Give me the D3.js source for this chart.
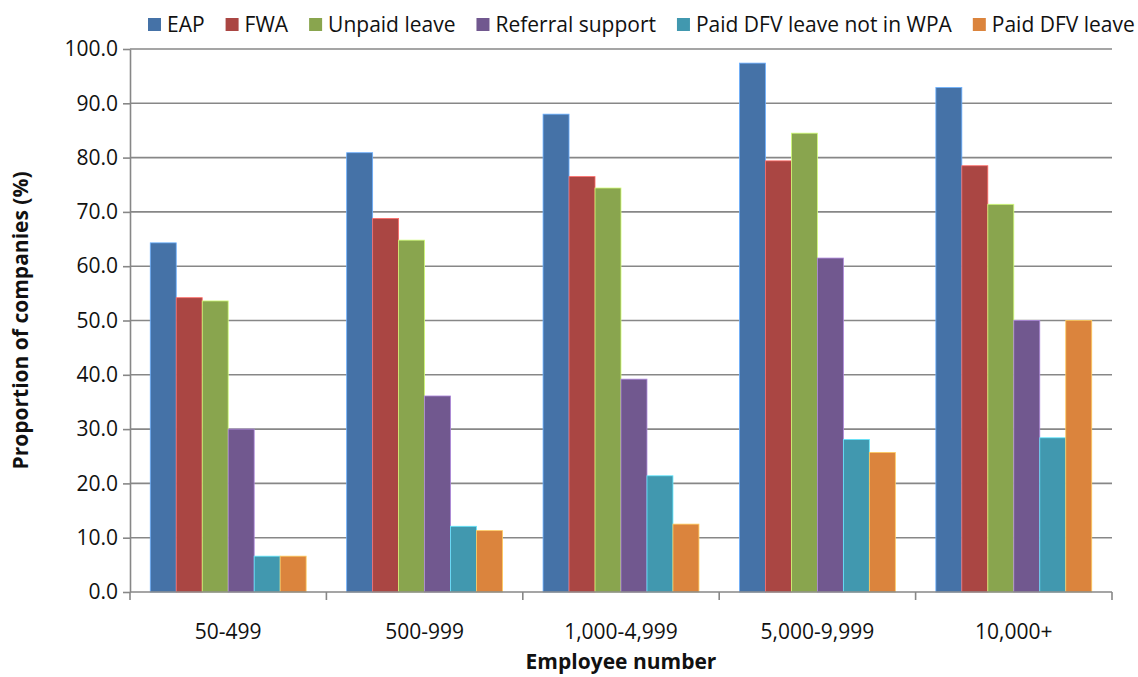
<!DOCTYPE html>
<html>
<head>
<meta charset="utf-8">
<script src="https://cdn.jsdelivr.net/npm/d3@7"></script>
<style>
  html, body { margin: 0; padding: 0; background: #fff; }
  svg text { font-family: "Open Sans", Lato, sans-serif; fill: #111; }
</style>
</head>
<body>
<svg id="chart" width="1138" height="677"></svg>
<script>
// Employee-size bands on the x axis
const categories = ["50-499", "500-999", "1,000-4,999", "5,000-9,999", "10,000+"];

// Support types, in legend / bar order
const seriesNames = ["EAP", "FWA", "Unpaid leave", "Referral support", "Paid DFV leave not in WPA", "Paid DFV leave"];
const seriesColors = ["#4572A7", "#AA4643", "#89A54E", "#71588F", "#4198AF", "#DB843D"];

// Proportion of companies (%) per band, one array per support type
const eap        = [64.3, 80.9, 88.0, 97.4, 92.9];
const fwa        = [54.2, 68.8, 76.5, 79.4, 78.5];
const unpaid     = [53.6, 64.8, 74.4, 84.5, 71.4];
const referral   = [30.0, 36.1, 39.2, 61.5, 50.0];
const paidNotWpa = [6.6, 12.1, 21.4, 28.1, 28.4];
const paidDfv    = [6.6, 11.3, 12.5, 25.7, 50.0];

const yTicks = [0, 10, 20, 30, 40, 50, 60, 70, 80, 90, 100];

const seriesValues = [eap, fwa, unpaid, referral, paidNotWpa, paidDfv];

const svg = d3.select("#chart");
const plotLeft = 130, plotRight = 1112, plotTop = 49, plotBottom = 592;
const axisColor = "#878787";

const x0 = d3.scaleBand().domain(categories).range([plotLeft, plotRight]).paddingInner(0).paddingOuter(0);
const x1 = d3.scaleBand().domain(seriesNames).range([0, x0.bandwidth()]).paddingInner(0).paddingOuter(0.78);
const y = d3.scaleLinear().domain([0, 100]).range([plotBottom, plotTop]);

// horizontal gridlines
svg.append("g")
  .selectAll("line")
  .data(yTicks.filter(d => d > 0))
  .join("line")
  .attr("x1", plotLeft).attr("x2", plotRight)
  .attr("y1", d => y(d)).attr("y2", d => y(d))
  .attr("stroke", axisColor).attr("stroke-width", 1.6);

// bars
const rows = categories.map((c, i) => ({
  cat: c,
  vals: seriesNames.map((s, j) => ({ s, j, v: seriesValues[j][i] }))
}));

svg.append("g")
  .selectAll("g")
  .data(rows)
  .join("g")
  .attr("transform", d => `translate(${x0(d.cat)},0)`)
  .selectAll("rect")
  .data(d => d.vals)
  .join("rect")
  .attr("x", d => x1(d.s))
  .attr("width", x1.bandwidth())
  .attr("y", d => y(d.v))
  .attr("height", d => y(0) - y(d.v))
  .attr("fill", d => seriesColors[d.j])
  .attr("stroke", d => d3.color(seriesColors[d.j]).brighter(1.2))
  .attr("stroke-width", 0.8);

// y axis
const yAxis = d3.axisLeft(y).tickValues(yTicks).tickFormat(d3.format(".1f"))
  .tickSizeInner(7).tickSizeOuter(0).tickPadding(5);
const gy = svg.append("g").attr("transform", `translate(${plotLeft},0)`).call(yAxis);
gy.select(".domain").attr("stroke", axisColor).attr("stroke-width", 1.6);
gy.selectAll(".tick line").attr("stroke", axisColor).attr("stroke-width", 1.6);
gy.selectAll(".tick text").style("font-size", "21px").attr("fill", "#111");

// x axis: baseline plus boundary ticks between bands
const gx = svg.append("g");
gx.append("line")
  .attr("x1", plotLeft).attr("x2", plotRight)
  .attr("y1", y(0)).attr("y2", y(0))
  .attr("stroke", axisColor).attr("stroke-width", 1.6);
const bounds = categories.map(c => x0(c)).concat([x0(categories[categories.length - 1]) + x0.step()]);
gx.selectAll("line.tk")
  .data(bounds)
  .join("line")
  .attr("class", "tk")
  .attr("x1", d => d).attr("x2", d => d)
  .attr("y1", y(0)).attr("y2", y(0) + 8)
  .attr("stroke", axisColor).attr("stroke-width", 1.6);
gx.selectAll("text")
  .data(categories)
  .join("text")
  .attr("x", d => x0(d) + x0.bandwidth() / 2)
  .attr("y", 639)
  .attr("text-anchor", "middle")
  .style("font-size", "21px")
  .text(d => d);

// axis titles
svg.append("text")
  .attr("x", (plotLeft + plotRight) / 2).attr("y", 669)
  .attr("text-anchor", "middle")
  .style("font-size", "21px").style("font-weight", "bold")
  .text("Employee number");

svg.append("text")
  .attr("transform", `translate(28,${(plotTop + plotBottom) / 2}) rotate(-90)`)
  .attr("text-anchor", "middle")
  .style("font-size", "21px").style("font-weight", "bold")
  .text("Proportion of companies (%)");

// legend along the top
const legend = svg.append("g").attr("transform", "translate(148,0)");
let lx = 0;
seriesNames.forEach((name, j) => {
  const g = legend.append("g").attr("transform", `translate(${lx},0)`);
  g.append("rect").attr("x", 0).attr("y", 18).attr("width", 13).attr("height", 13)
    .attr("fill", seriesColors[j]);
  const t = g.append("text").attr("x", 19).attr("y", 32)
    .style("font-size", "21px").text(name);
  lx += 19 + t.node().getComputedTextLength() + 21;
});
</script>
</body>
</html>
